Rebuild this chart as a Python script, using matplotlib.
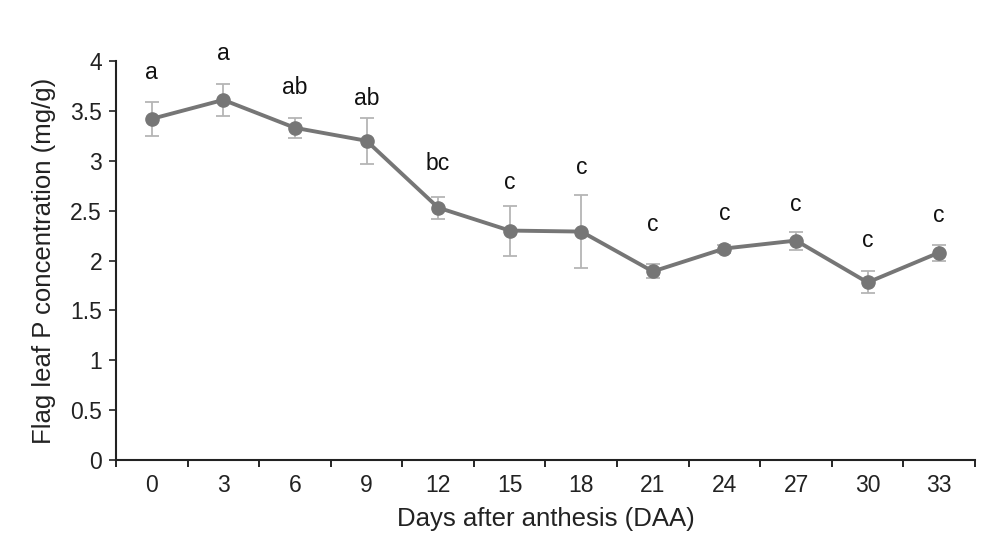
import matplotlib.pyplot as plt
import numpy as np

plt.rcParams['font.family'] = ['Liberation Sans', 'DejaVu Sans']

days = ['0', '3', '6', '9', '12', '15', '18', '21', '24', '27', '30', '33']
p_conc = [3.42, 3.61, 3.33, 3.20, 2.53, 2.30, 2.29, 1.89, 2.12, 2.20, 1.78, 2.08]
p_err = [0.17, 0.16, 0.10, 0.23, 0.11, 0.25, 0.37, 0.07, 0.04, 0.09, 0.11, 0.08]
letters = ['a', 'a', 'ab', 'ab', 'bc', 'c', 'c', 'c', 'c', 'c', 'c', 'c']
letter_y = [3.88, 4.08, 3.73, 3.62, 2.97, 2.78, 2.93, 2.36, 2.47, 2.56, 2.20, 2.45]

fig = plt.figure(figsize=(10.04, 5.4), dpi=100)
ax = fig.add_axes([116 / 1004, 80 / 540, (975 - 116) / 1004, (460 - 61) / 540])

x = np.arange(len(days))
ax.errorbar(x, p_conc, yerr=p_err, fmt='none', ecolor='#b5b5b5', elinewidth=1.3,
            capsize=5, capthick=1.3, zorder=1)
ax.plot(x, p_conc, color='#767676', lw=2.8, marker='o', markersize=9.5, zorder=2)

for xi, lab, ly in zip(x, letters, letter_y):
    ax.text(xi, ly, lab, ha='center', va='center', fontsize=16.5, color='#111111')

ax.set_xlim(-0.5, len(days) - 0.5)
ax.set_ylim(0, 4)
ax.set_yticks(np.arange(0, 4.01, 0.5))
ax.set_yticklabels(['0', '0.5', '1', '1.5', '2', '2.5', '3', '3.5', '4'])
ax.set_xticks(np.arange(-0.5, len(days), 1))
ax.set_xticklabels([])
ax.set_xticks(x, minor=True)
ax.set_xticklabels(days, minor=True)
ax.tick_params(axis='x', which='minor', length=0, labelsize=16.5, pad=10, colors='#222222')
ax.tick_params(axis='x', which='major', length=5, width=1.2, direction='out')
ax.tick_params(axis='y', length=5, width=1.2, direction='out', labelsize=16.5, pad=5,
               colors='#222222')

for s in ['top', 'right']:
    ax.spines[s].set_visible(False)
for s in ['left', 'bottom']:
    ax.spines[s].set_linewidth(1.5)
    ax.spines[s].set_color('#222222')

ax.set_xlabel('Days after anthesis (DAA)', fontsize=18.5, color='#222222', labelpad=7)
ax.set_ylabel('Flag leaf P concentration (mg/g)', fontsize=18.5, color='#222222', labelpad=10)

fig.savefig('out.png', dpi=100)
